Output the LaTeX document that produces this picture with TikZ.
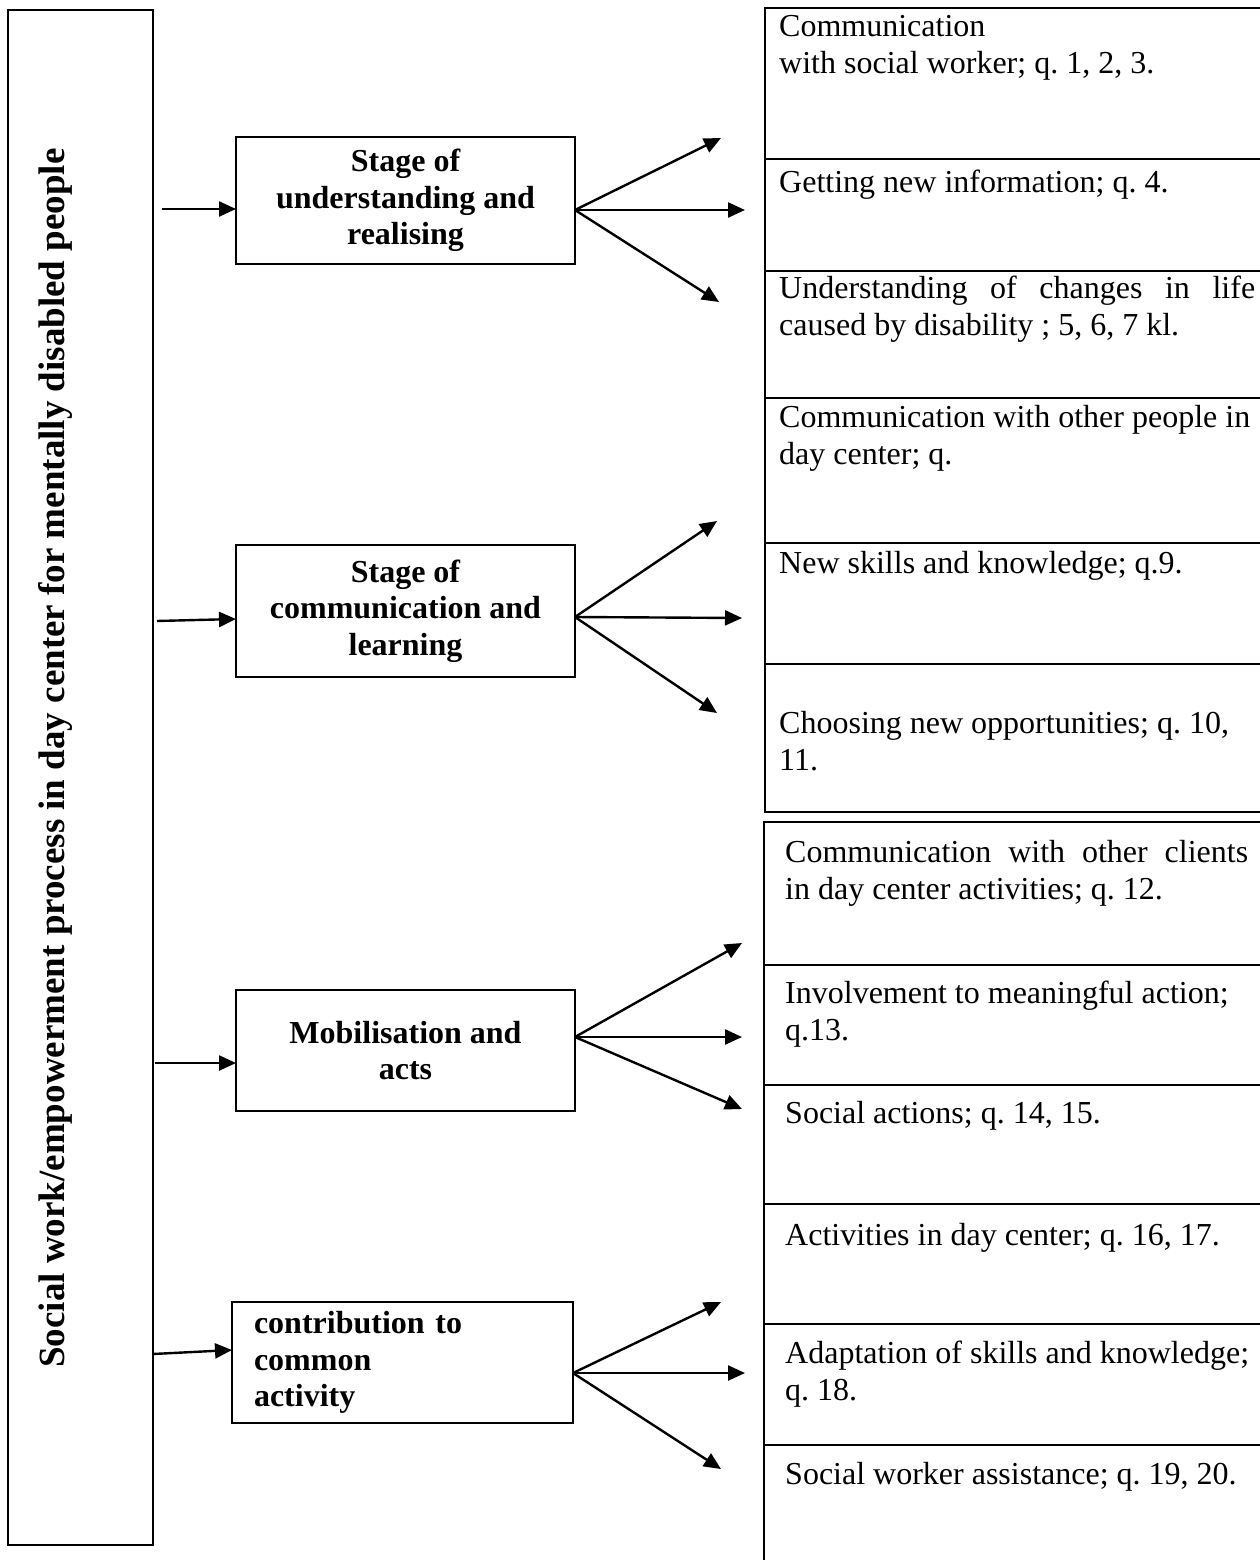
\documentclass[tikz,border=0pt]{standalone}
\usepackage{fontspec}
\setmainfont{Liberation Serif}
\usepackage{tikz}
\usetikzlibrary{arrows.meta,positioning}
\frenchspacing

\begin{document}
\begin{tikzpicture}[x=1pt, y=-1pt,
	stagebox/.style={draw, line width=1.8, minimum width=339, minimum height=127, inner sep=0, outer sep=0, align=center, font=\fontsize{32}{36.5}\selectfont\bfseries},
	cell/.style={draw, line width=2.2, minimum width=620, inner sep=0, outer sep=0, anchor=north west},
	celltext/.style={anchor=base west, inner sep=0, text width=480, align=justify, font=\fontsize{32}{37}\selectfont},
	arr/.style={-{Triangle[length=17pt,width=15pt]}, line width=2.4}
]
\useasboundingbox (0,0) rectangle (1259,1560);

\node[draw, line width=2, minimum width=145, minimum height=1535, anchor=north west, inner sep=0, outer sep=0] (frame) at (8,10) {};
\node[rotate=90, inner sep=0, font=\fontsize{37}{42}\selectfont\bfseries] (title) at (55,758) {Social work/empowerment process in day center for mentally disabled people};

\node[stagebox] (s1) at (405.5,200.5) {Stage of\\understanding and\\realising};
\node[stagebox, minimum height=132] (s2) at (405.5,611) {Stage of\\communication and\\learning};
\node[stagebox, minimum height=121] (s3) at (405.5,1050.5) {Mobilisation and\\acts};
\node[stagebox, minimum width=341, minimum height=121, text width=297, align=left] (s4) at (402.5,1362.5) {contribution to\\common\\activity};

% inputs from the frame
\coordinate (in1) at (162,209);
\coordinate (in2) at (157,621);
\coordinate (in3) at (155,1063);
\coordinate (in4) at (153,1354);
\draw[arr] (in1) -- (s1.west |- in1);
\draw[arr] (in2) -- ([yshift=-8pt]s2.west);
\draw[arr] (in3) -- (s3.west |- in3);
\draw[arr] (in4) -- ([yshift=12.5pt]s4.west);

% right column, first table
\node[cell, minimum height=151] (r1) at (765,8) {};
\node[cell, minimum height=112] (r2) at (765,159) {};
\node[cell, minimum height=127] (r3) at (765,271) {};
\node[cell, minimum height=145] (r4) at (765,398) {};
\node[cell, minimum height=121] (r5) at (765,543) {};
\node[cell, minimum height=148] (r6) at (765,664) {};

\node[celltext] (q1) at ([shift={(14,29)}]r1.north west) {Communication\\with social worker; q. 1, 2, 3.};
\node[celltext] (q2) at ([shift={(14,33)}]r2.north west) {Getting new information; q. 4.};
\node[celltext] (q3) at ([shift={(14,27)}]r3.north west) {\makebox[476pt][s]{Understanding of changes in life}\\caused by disability ; 5, 6, 7 kl.};
\node[celltext] (q4) at ([shift={(14,29)}]r4.north west) {Communication with other people in\\day center; q.};
\node[celltext] (q5) at ([shift={(14,30)}]r5.north west) {New skills and knowledge; q.9.};
\node[celltext] (q6) at ([shift={(14,69)}]r6.north west) {Choosing new opportunities; q. 10,\\11.};

% right column, second table
\node[cell, minimum height=143] (r7) at (764,822) {};
\node[cell, minimum height=120] (r8) at (764,965) {};
\node[cell, minimum height=119] (r9) at (764,1085) {};
\node[cell, minimum height=120] (r10) at (764,1204) {};
\node[cell, minimum height=121] (r11) at (764,1324) {};
\node[cell, minimum height=200] (r12) at (764,1445) {};

\node[celltext] (q7) at ([shift={(21,40)}]r7.north west) {\makebox[463pt][s]{Communication with other clients}\\in day center activities; q. 12.};
\node[celltext] (q8) at ([shift={(21,38)}]r8.north west) {Involvement to meaningful action;\\q.13.};
\node[celltext] (q9) at ([shift={(21,38)}]r9.north west) {Social actions; q. 14, 15.};
\node[celltext] (q10) at ([shift={(21,41)}]r10.north west) {Activities in day center; q. 16, 17.};
\node[celltext] (q11) at ([shift={(21,39)}]r11.north west) {Adaptation of skills and knowledge;\\q. 18.};
\node[celltext] (q12) at ([shift={(21,39)}]r12.north west) {Social worker assistance; q. 19, 20.};

% fans
\coordinate (o1) at ([yshift=-9.5pt]s1.east);
\coordinate (a1) at (721,138);
\coordinate (b1) at (745,210);
\coordinate (c1) at (719,302);
\draw[arr] (o1) -- (a1);
\draw[arr] (o1) -- (b1);
\draw[arr] (o1) -- (c1);

\coordinate (o2) at ([yshift=-6pt]s2.east);
\coordinate (a2) at (717,521);
\coordinate (b2) at (742,618);
\coordinate (c2) at (717,713);
\draw[arr] (o2) -- (a2);
\draw[arr] (o2) -- (b2);
\draw[arr] (o2) -- (c2);

\coordinate (o3) at ([yshift=13.5pt]s3.east);
\coordinate (a3) at (742,943);
\coordinate (b3) at (742,1037);
\coordinate (c3) at (742,1109);
\draw[arr] (o3) -- (a3);
\draw[arr] (o3) -- (b3);
\draw[arr] (o3) -- (c3);

\coordinate (o4) at ([yshift=-10.5pt]s4.east);
\coordinate (a4) at (721,1302);
\coordinate (b4) at (745,1373);
\coordinate (c4) at (721,1469);
\draw[arr] (o4) -- (a4);
\draw[arr] (o4) -- (b4);
\draw[arr] (o4) -- (c4);
\end{tikzpicture}
\end{document}
